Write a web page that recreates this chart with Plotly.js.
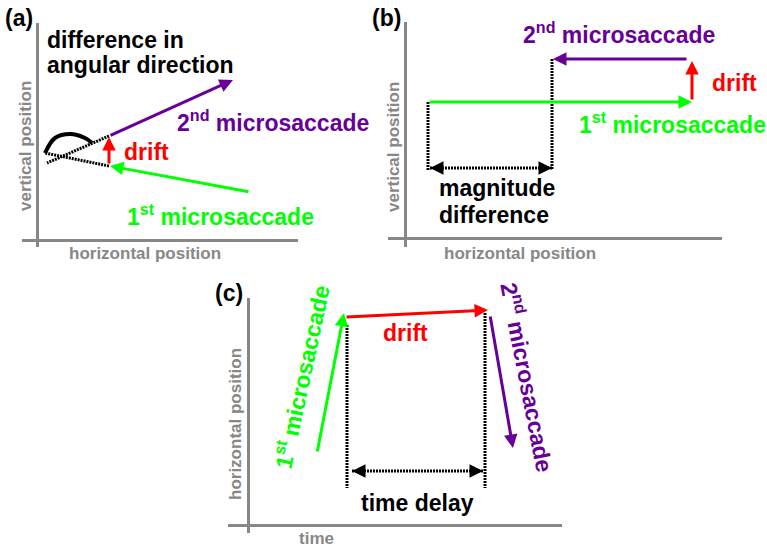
<!DOCTYPE html>
<html>
<head>
<meta charset="utf-8">
<script src="https://cdn.plot.ly/plotly-3.0.1.min.js"></script>
<style>
  html, body { margin: 0; padding: 0; background: #fff; }
  #chart { width: 767px; height: 547px; }
</style>
</head>
<body>
<div id="chart"></div>
<script>
// Movement sketches: each segment is [tail, head] in position units,
// measured from the origin of its own panel.

// (a) difference in angular direction
const aSacc1X = [213, 73],  aSacc1Y = [48, 74];
const aDriftX = [72, 72],   aDriftY = [75, 103];
const aSacc2X = [72, 196],  aSacc2Y = [104, 160];
const aGuide1X = [72, 8],   aGuide1Y = [74, 87];   // 1st saccade carried on
const aGuide2X = [72, 10],  aGuide2Y = [104, 77];  // 2nd saccade carried back
const aArcX = [8, 18, 33, 48, 55];
const aArcY = [87, 102, 106, 102, 97];

// (b) magnitude difference
const bSacc1X = [23, 287],  bSacc1Y = [136, 136];
const bDriftX = [287, 287], bDriftY = [137, 177];
const bSacc2X = [283, 148], bSacc2Y = [179, 179];
const bMarkLX = [23, 23],   bMarkLY = [136, 68];
const bMarkRX = [147, 147], bMarkRY = [179, 68];
const bSpanX = [25, 147],   bSpanY = [70, 70];

// (c) time delay
const cSacc1X = [69, 96],   cSacc1Y = [72, 212];
const cDriftX = [97, 240],  cDriftY = [208, 215];
const cSacc2X = [242, 265], cSacc2Y = [210, 77];
const cMarkLX = [99, 99],   cMarkLY = [200, 37];
const cMarkRX = [237, 237], cMarkRY = [212, 37];
const cSpanX = [104, 235],  cSpanY = [54, 54];

// ---------------------------------------------------------------
const W = 767, H = 547;
const GREEN = '#00ff00', RED = '#ff0000', PURPLE = '#660099';
const GRAY = '#878787', BLACK = '#000000';
const FONT = 'Arial, "Liberation Sans", sans-serif';

const px = x => x / W;
const py = y => 1 - y / H;

const layout = {
  width: W, height: H,
  margin: { l: 0, r: 0, t: 0, b: 0 },
  paper_bgcolor: '#fff', plot_bgcolor: 'rgba(0,0,0,0)',
  showlegend: false,
  font: { family: FONT },
  annotations: []
};

// Panel frames: axis-line crossings come from the zero lines.
function panel(id, xPix, yPix, xRange, yRange) {
  const common = {
    showgrid: false, showticklabels: false, ticks: '', showline: false,
    zeroline: true, zerolinecolor: GRAY, zerolinewidth: 3, fixedrange: true
  };
  layout['xaxis' + id] = Object.assign({}, common, {
    domain: [px(xPix[0]), px(xPix[1])], range: xRange, anchor: 'y' + id
  });
  layout['yaxis' + id] = Object.assign({}, common, {
    domain: [py(yPix[1]), py(yPix[0])], range: yRange, anchor: 'x' + id
  });
}
panel('',  [22, 298],  [23, 247],  [-15, 261], [-7, 217]);
panel('2', [388, 722], [22, 247],  [-17, 317], [-9, 216]);
panel('3', [228, 562], [298, 533], [-20, 314], [-8, 227]);

const traces = [];
function line(xs, ys, id, color, width, dash, shape) {
  traces.push({
    type: 'scatter', mode: 'lines', x: xs, y: ys,
    xaxis: 'x' + id, yaxis: 'y' + id, hoverinfo: 'skip',
    line: { color: color, width: width, dash: dash || 'solid', shape: shape || 'linear' }
  });
}
function arrow(xs, ys, id, color) {
  layout.annotations.push({
    xref: 'x' + id, yref: 'y' + id, axref: 'x' + id, ayref: 'y' + id,
    x: xs[1], y: ys[1], ax: xs[0], ay: ys[0], text: '',
    showarrow: true, arrowhead: 2, arrowsize: 0.9, arrowwidth: 3,
    arrowcolor: color, standoff: 0
  });
}
// Dotted double-headed span: dotted shaft plus a head at each end.
function span(xs, ys, id) {
  line(xs, ys, id, BLACK, 3, '2px,1px');
  arrow([xs[0] + 12, xs[0]], [ys[0], ys[0]], id, BLACK);
  arrow([xs[1] - 12, xs[1]], [ys[1], ys[1]], id, BLACK);
}
function label(text, x, y, opts) {
  const o = opts || {};
  layout.annotations.push({
    xref: 'paper', yref: 'paper', x: px(x), y: py(y), text: text,
    showarrow: false, xanchor: o.xanchor || 'center', yanchor: 'middle',
    textangle: o.angle || 0,
    font: { family: FONT, size: o.size || 23, color: o.color || BLACK, weight: 'bold' }
  });
}

// (a)
line(aGuide1X, aGuide1Y, '', BLACK, 3, '2px,1px');
line(aGuide2X, aGuide2Y, '', BLACK, 3, '2px,1px');
line(aArcX, aArcY, '', BLACK, 4, 'solid', 'spline');
arrow(aSacc1X, aSacc1Y, '', GREEN);
arrow(aDriftX, aDriftY, '', RED);
arrow(aSacc2X, aSacc2Y, '', PURPLE);

// (b)
line(bMarkLX, bMarkLY, '2', BLACK, 3, '2px,1px');
line(bMarkRX, bMarkRY, '2', BLACK, 3, '2px,1px');
span(bSpanX, bSpanY, '2');
arrow(bSacc1X, bSacc1Y, '2', GREEN);
arrow(bDriftX, bDriftY, '2', RED);
arrow(bSacc2X, bSacc2Y, '2', PURPLE);

// (c)
line(cMarkLX, cMarkLY, '3', BLACK, 3, '2px,1px');
line(cMarkRX, cMarkRY, '3', BLACK, 3, '2px,1px');
span(cSpanX, cSpanY, '3');
arrow(cSacc1X, cSacc1Y, '3', GREEN);
arrow(cDriftX, cDriftY, '3', RED);
arrow(cSacc2X, cSacc2Y, '3', PURPLE);

// Text
label('(a)', 19, 18);
label('difference in', 45, 40, { xanchor: 'left' });
label('angular direction', 45, 65, { xanchor: 'left' });
label('2<sup>nd</sup> microsaccade', 175, 121, { xanchor: 'left', color: PURPLE });
label('drift', 122, 152, { xanchor: 'left', color: RED });
label('1<sup>st</sup> microsaccade', 125, 215, { xanchor: 'left', color: GREEN });
label('horizontal position', 145, 254, { size: 17, color: GRAY });
label('vertical position', 26, 146, { size: 17, color: GRAY, angle: -90 });

label('(b)', 386, 18);
label('2<sup>nd</sup> microsaccade', 521, 33, { xanchor: 'left', color: PURPLE });
label('drift', 710, 83, { xanchor: 'left', color: RED });
label('1<sup>st</sup> microsaccade', 577, 123, { xanchor: 'left', color: GREEN });
label('magnitude', 437, 188, { xanchor: 'left' });
label('difference', 437, 215, { xanchor: 'left' });
label('horizontal position', 520, 254, { size: 17, color: GRAY });
label('vertical position', 393, 147, { size: 17, color: GRAY, angle: -90 });

label('(c)', 229, 293);
label('1<sup>st</sup> microsaccade', 301, 377, { color: GREEN, angle: -78 });
label('drift', 405, 333, { color: RED });
label('2<sup>nd</sup> microsaccade', 528, 377, { color: PURPLE, angle: 79 });
label('time delay', 417, 503);
label('horizontal position', 235, 424, { size: 17, color: GRAY, angle: -90 });
label('time', 316, 538, { size: 17, color: GRAY });

Plotly.newPlot('chart', traces, layout, { staticPlot: true, displayModeBar: false });
</script>
</body>
</html>
